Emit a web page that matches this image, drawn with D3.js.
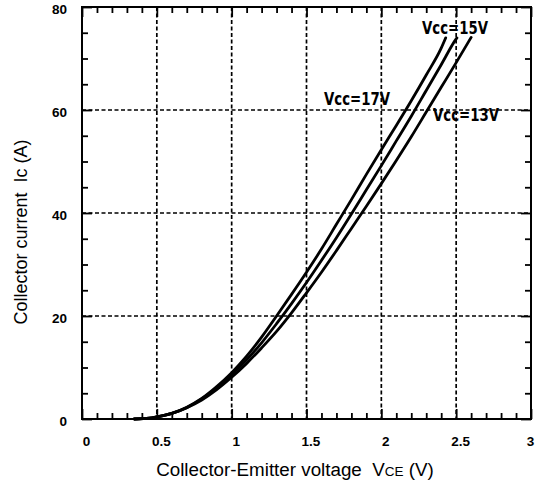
<!DOCTYPE html>
<html><head><meta charset="utf-8">
<script src="https://cdn.jsdelivr.net/npm/d3@7"></script>
<style>
html,body{margin:0;padding:0;background:#fff;}
svg{display:block;}
</style></head>
<body>
<svg id="chart" width="536" height="485"></svg>
<script>
// ---- data ----
const vce17 = [0.35,0.45,0.50,0.60,0.70,0.80,0.90,1.00,1.10,1.20,1.30,1.40,1.50,1.60,1.70,1.80,1.90,2.00,2.10,2.20,2.30,2.40,2.43];
const ic17  = [0.0,0.15,0.4,1.1,2.3,4.0,6.3,9.0,12.2,15.9,20.0,24.2,28.5,33.0,37.8,42.6,47.5,52.3,57.0,61.8,66.8,72.0,74.0];
const vce15 = [0.35,0.45,0.50,0.60,0.70,0.80,0.90,1.00,1.10,1.20,1.30,1.40,1.50,1.60,1.70,1.80,1.90,2.00,2.10,2.20,2.30,2.40,2.50,2.505];
const ic15  = [0.0,0.15,0.4,1.1,2.2,3.9,6.0,8.6,11.5,14.8,18.5,22.4,26.5,30.8,35.2,39.8,44.5,49.2,54.0,58.8,63.8,68.8,73.8,74.0];
const vce13 = [0.35,0.45,0.50,0.60,0.70,0.80,0.90,1.00,1.10,1.20,1.30,1.40,1.50,1.60,1.70,1.80,1.90,2.00,2.10,2.20,2.30,2.40,2.50,2.60];
const ic13  = [0.0,0.15,0.4,1.1,2.2,3.7,5.7,8.1,10.8,13.8,17.0,20.6,24.5,28.5,32.7,37.0,41.3,45.7,50.2,54.8,59.6,64.4,69.2,74.1];
const seriesNames = ["Vcc=17V","Vcc=15V","Vcc=13V"];
const xMajor = [0,0.5,1,1.5,2,2.5,3];
const xMajorLabels = ["0","0.5","1","1.5","2","2.5","3"];
const yMajor = [0,20,40,60,80];
const yMajorLabels = ["0","20","40","60","80"];
const xGrid = [0.5,1,1.5,2,2.5];
const yGrid = [20,40,60];

// ---- layout ----
const svg = d3.select("#chart");
const L = 82, R = 531, T = 7, B = 419;
const x = d3.scaleLinear().domain([0,3]).range([L,R]);
const y = d3.scaleLinear().domain([0,80]).range([B,T]);
const xMinor = d3.range(0,3.0001,0.1).map(v=>+v.toFixed(2)).filter(v=>!xMajor.some(m=>Math.abs(m-v)<1e-6));
const yMinor = d3.range(0,80.001,5).filter(v=>!yMajor.includes(v));

const tickFont = "'Liberation Sans', Arial, sans-serif";

// grid
const g = svg.append("g");
g.selectAll(".gx").data(xGrid).join("line")
  .attr("x1",d=>x(d)).attr("x2",d=>x(d)).attr("y1",T).attr("y2",B)
  .attr("stroke","#000").attr("stroke-width",1.7).attr("stroke-dasharray","4,2.5");
g.selectAll(".gy").data(yGrid).join("line")
  .attr("y1",d=>y(d)).attr("y2",d=>y(d)).attr("x1",L).attr("x2",R)
  .attr("stroke","#000").attr("stroke-width",1.5).attr("stroke-dasharray","4,2.5");

function styleAxis(sel){
  sel.select(".domain").remove();
  sel.selectAll(".tick line").attr("stroke","#000").attr("stroke-width",1.8);
  sel.selectAll("text").attr("font-family",tickFont).attr("font-weight","bold").attr("font-size","13.5px").attr("fill","#000");
}

// bottom axis
svg.append("g").attr("transform",`translate(0,${B})`)
  .call(d3.axisBottom(x).tickValues(xMajor).tickSize(-10).tickPadding(17).tickFormat((d,i)=>xMajorLabels[i]))
  .call(styleAxis).selectAll("text").attr("dx",(d,i)=> i===xMajor.length-1 ? "-1" : "4");
svg.append("g").attr("transform",`translate(0,${B})`)
  .call(d3.axisBottom(x).tickValues(xMinor).tickSize(-6).tickFormat(""))
  .call(styleAxis);
// top axis
svg.append("g").attr("transform",`translate(0,${T})`)
  .call(d3.axisTop(x).tickValues(xMajor).tickSize(-10).tickFormat(""))
  .call(styleAxis);
svg.append("g").attr("transform",`translate(0,${T})`)
  .call(d3.axisTop(x).tickValues(xMinor).tickSize(-6).tickFormat(""))
  .call(styleAxis);
// left axis
svg.append("g").attr("transform",`translate(${L},0)`)
  .call(d3.axisLeft(y).tickValues(yMajor).tickSize(-10).tickPadding(15).tickFormat((d,i)=>yMajorLabels[i]))
  .call(styleAxis).selectAll("text").attr("dy","0.5em");
svg.append("g").attr("transform",`translate(${L},0)`)
  .call(d3.axisLeft(y).tickValues(yMinor).tickSize(-6).tickFormat(""))
  .call(styleAxis);
// right axis
svg.append("g").attr("transform",`translate(${R},0)`)
  .call(d3.axisRight(y).tickValues(yMajor).tickSize(-10).tickFormat(""))
  .call(styleAxis);
svg.append("g").attr("transform",`translate(${R},0)`)
  .call(d3.axisRight(y).tickValues(yMinor).tickSize(-6).tickFormat(""))
  .call(styleAxis);

// frame
svg.append("rect").attr("x",L).attr("y",T).attr("width",R-L).attr("height",B-T)
  .attr("fill","none").attr("stroke","#000").attr("stroke-width",2);

// curves
const line = d3.line().x(d=>x(d[0])).y(d=>y(d[1])).curve(d3.curveMonotoneX);
const series = [
  d3.zip(vce17, ic17),
  d3.zip(vce15, ic15),
  d3.zip(vce13, ic13)
];
svg.append("g").selectAll("path").data(series).join("path")
  .attr("d",line).attr("fill","none").attr("stroke","#000").attr("stroke-width",2.8)
  .attr("stroke-linecap","round").attr("stroke-linejoin","round");

// curve labels
const labelPos = [[324,105],[422,34],[433,121]]; // 17V,15V,13V
const labelFont = "'DejaVu Sans Condensed','DejaVu Sans',sans-serif";
svg.append("g").selectAll("text").data(seriesNames).join("text")
  .attr("x",(d,i)=>labelPos[i][0]).attr("y",(d,i)=>labelPos[i][1])
  .attr("font-family",labelFont).attr("font-weight","bold").attr("font-size","18px")
  .attr("textLength",66).attr("lengthAdjust","spacingAndGlyphs")
  .text(d=>d);

// axis titles
const titleFont = "'Liberation Sans', Arial, sans-serif";
const xt = svg.append("text").attr("x",(153+437)/2).attr("y",476).attr("text-anchor","middle")
  .attr("font-family",titleFont).attr("font-size","18.8px").attr("fill","#000");
xt.append("tspan").text("Collector-Emitter voltage \u00a0V");
xt.append("tspan").attr("font-size","13.5px").text("CE");
xt.append("tspan").text(" (V)");

svg.append("text").attr("transform",`translate(27,232) rotate(-90)`).attr("text-anchor","middle")
  .attr("font-family",titleFont).attr("font-size","18px").attr("fill","#000")
  .text("Collector current \u00a0Ic (A)");
</script>
</body></html>
